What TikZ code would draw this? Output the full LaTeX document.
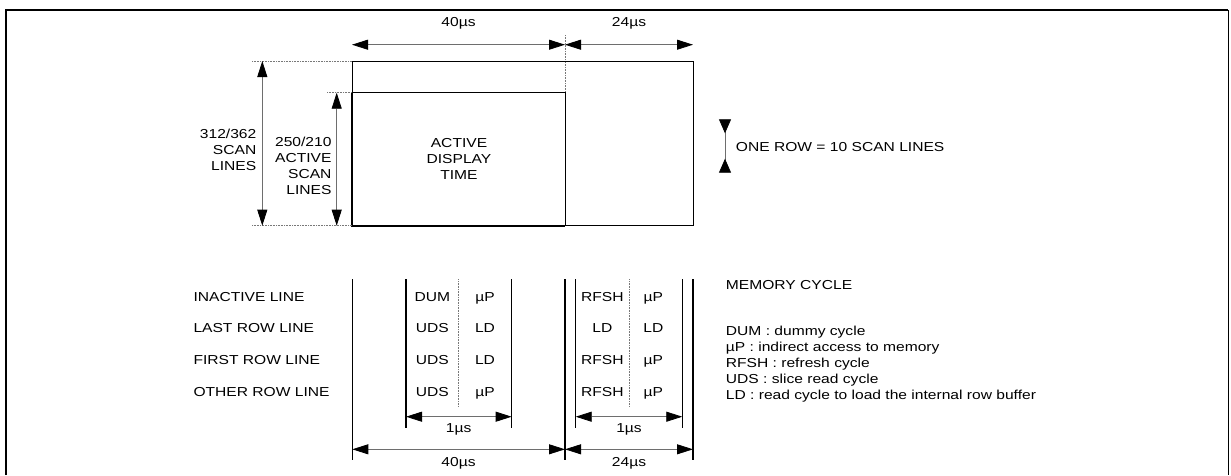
\documentclass[tikz,border=0pt]{standalone}
\usepackage{fontspec}
\setmainfont{Liberation Sans}[FakeStretch=1.2]
\usetikzlibrary{arrows.meta}
\definecolor{shaftgray}{RGB}{110,110,110}
\definecolor{dotgray}{RGB}{120,120,120}
\begin{document}
\begin{tikzpicture}[x=1pt,y=-1pt,
  every node/.style={inner sep=0pt, font=\fontsize{13}{15.8}\selectfont},
  lbl/.style={text height=9.3pt, text depth=0pt},
  dimarrow/.style={draw=shaftgray, line width=0.8pt, >={Triangle[length=16pt,width=10pt,color=black]}, <->},
  extline/.style={draw=dotgray, densely dotted, line width=0.6pt},
  vline/.style={draw=black, line width=1.3pt},
  frameline/.style={draw=black, line width=2pt}]
\useasboundingbox (0,0) rectangle (1231,475);
% frame
\coordinate (fbl) at (6,475); \coordinate (ftl) at (6,10);
\coordinate (ftr) at (1228,10); \coordinate (fbr) at (1228,475);
\draw[frameline] (fbl) -- (ftl) -- (ftr);
\draw[line width=1pt] (ftr) -- (fbr);
% top dimensions
\coordinate (t1) at (352,44.7); \coordinate (t2) at (565,44.7); \coordinate (t3) at (693,44.7);
\draw[dimarrow] (t1) -- (t2);
\draw[dimarrow] (t2) -- (t3);
\coordinate (tk1) at (565,35); \coordinate (tk2) at (565,92.7);
\draw[extline] (tk1) -- (tk2);
\node[lbl] (l40top) at (458.5,22) {40µs};
\node[lbl] (l24top) at (629,22) {24µs};
% rectangles
\coordinate (otl) at (352,61); \coordinate (obr) at (693,225.7);
\draw[line width=1pt] (otl) rectangle (obr);
\coordinate (itl) at (352,92.7); \coordinate (ibl) at (352,225.7); \coordinate (ibr) at (565,225.7);
\draw[line width=1pt] (itl) rectangle (ibr);
\draw[line width=1.7pt] (itl) -- (ibl) -- (ibr);
\node[align=center, anchor=north] (adt) at (459,138.6) {\fontsize{13}{16}\selectfont ACTIVE\\DISPLAY\\TIME};
% left dimensions
\coordinate (e1) at (252,61); \coordinate (e2) at (252,225.7); \coordinate (e3) at (327,92.7);
\draw[extline] (e1) -- (otl);
\draw[extline] (e2) -- (ibl);
\draw[extline] (e3) -- (itl);
\coordinate (v1a) at (262.3,61); \coordinate (v1b) at (262.3,225.7);
\coordinate (v2a) at (336.7,92.7); \coordinate (v2b) at (336.7,225.7);
\draw[dimarrow] (v1a) -- (v1b);
\draw[dimarrow] (v2a) -- (v2b);
\node[anchor=north east, align=right] (lscan) at (256.5,129.3) {312/362\\SCAN\\LINES};
\node[anchor=north east, align=right] (lact) at (331.7,137) {250/210\\ACTIVE\\SCAN\\LINES};
% one row marker
\coordinate (r1) at (725,119.3); \coordinate (r2) at (725,172.7);
\draw[draw=shaftgray, line width=0.8pt, {Triangle[reversed,length=14pt,width=12pt,color=black]}-{Triangle[reversed,length=14pt,width=12pt,color=black]}] (r1) -- (r2);
\node[lbl, anchor=west] (onerow) at (735.7,146.7) {ONE ROW = 10 SCAN LINES};
% bottom timing frames
\coordinate (a1) at (352.3,279.3); \coordinate (a2) at (352.3,460);
\coordinate (b1) at (406,279.3); \coordinate (b2) at (406,428.3);
\coordinate (c1) at (511.7,279.3); \coordinate (c2) at (511.7,428.3);
\coordinate (d1) at (565,279.3); \coordinate (d2) at (565,460);
\coordinate (f1) at (575.7,279.3); \coordinate (f2) at (575.7,428.3);
\coordinate (g1) at (682.3,279.3); \coordinate (g2) at (682.3,428.3);
\coordinate (h1) at (693,279.3); \coordinate (h2) at (693,460);
\foreach \p in {a,b,c,d,f,g,h} {\draw[vline] (\p1) -- (\p2);}
\coordinate (dv1a) at (458.7,279.3); \coordinate (dv1b) at (458.7,406.7);
\coordinate (dv2a) at (629,279.3); \coordinate (dv2b) at (629,406.7);
\draw[extline] (dv1a) -- (dv1b);
\draw[extline] (dv2a) -- (dv2b);
\coordinate (m1a) at (406,416.7); \coordinate (m1b) at (511.7,416.7);
\coordinate (m2a) at (575.7,416.7); \coordinate (m2b) at (682.3,416.7);
\coordinate (n1a) at (352.3,449.3); \coordinate (n1b) at (565,449.3); \coordinate (n1c) at (693,449.3);
\draw[dimarrow] (m1a) -- (m1b);
\draw[dimarrow] (m2a) -- (m2b);
\draw[dimarrow] (n1a) -- (n1b);
\draw[dimarrow] (n1b) -- (n1c);
\node[lbl] (l1a) at (458.7,428.3) {1µs};
\node[lbl] (l1b) at (629,428.3) {1µs};
\node[lbl] (l40b) at (458.5,461.7) {40µs};
\node[lbl] (l24b) at (629,461.7) {24µs};
% row labels and cells
\node[lbl, anchor=west] (row1) at (193.3,296.5) {INACTIVE LINE};
\node[lbl, anchor=west] (row2) at (193.3,328.2) {LAST ROW LINE};
\node[lbl, anchor=west] (row3) at (193.3,360) {FIRST ROW LINE};
\node[lbl, anchor=west] (row4) at (193.3,391.8) {OTHER ROW LINE};
\node[lbl] (c11) at (432.3,296.5) {DUM};
\node[lbl] (c12) at (485,296.5) {µP};
\node[lbl] (c13) at (602.3,296.5) {RFSH};
\node[lbl] (c14) at (653.3,296.5) {µP};
\node[lbl] (c21) at (432.3,328.2) {UDS};
\node[lbl] (c22) at (485,328.2) {LD};
\node[lbl] (c23) at (602.3,328.2) {LD};
\node[lbl] (c24) at (653.3,328.2) {LD};
\node[lbl] (c31) at (432.3,360) {UDS};
\node[lbl] (c32) at (485,360) {LD};
\node[lbl] (c33) at (602.3,360) {RFSH};
\node[lbl] (c34) at (653.3,360) {µP};
\node[lbl] (c41) at (432.3,391.8) {UDS};
\node[lbl] (c42) at (485,391.8) {µP};
\node[lbl] (c43) at (602.3,391.8) {RFSH};
\node[lbl] (c44) at (653.3,391.8) {µP};
% legend
\node[lbl, anchor=west] (memc) at (725.7,285) {MEMORY CYCLE};
\node[anchor=north west, align=left] (legend) at (725.7,326.3) {\fontsize{13}{14.5}\selectfont DUM : dummy cycle\\µP : indirect access to memory\\RFSH : refresh cycle\\UDS : slice read cycle\\LD : read cycle to load the internal row buffer};
\end{tikzpicture}
\end{document}
